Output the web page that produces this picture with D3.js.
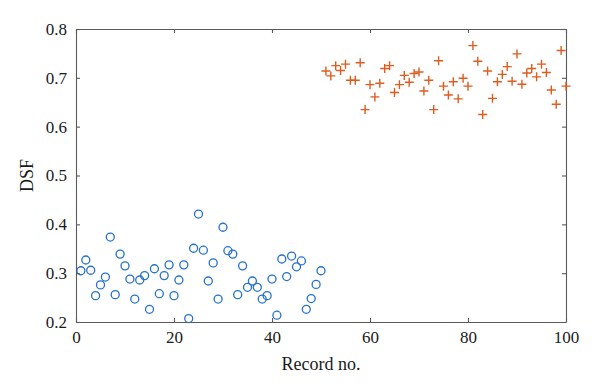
<!DOCTYPE html>
<html>
<head>
<meta charset="utf-8">
<script src="https://cdn.jsdelivr.net/npm/d3@7"></script>
<style>
  body { margin: 0; background: #fff; }
</style>
</head>
<body>
<div id="chart"></div>
<script>
"use strict";

// record numbers 1..50 (circles) and 51..100 (crosses)
var recordsA = d3.range(1, 51);
var recordsB = d3.range(51, 101);

var dsfA = [0.305, 0.327, 0.306, 0.254, 0.276, 0.292, 0.374, 0.256, 0.339, 0.315,
            0.288, 0.247, 0.286, 0.295, 0.226, 0.309, 0.258, 0.295, 0.317, 0.254,
            0.286, 0.317, 0.207, 0.351, 0.421, 0.347, 0.284, 0.321, 0.247, 0.394,
            0.346, 0.339, 0.256, 0.315, 0.271, 0.284, 0.271, 0.247, 0.254, 0.288,
            0.214, 0.329, 0.293, 0.335, 0.313, 0.325, 0.226, 0.248, 0.277, 0.305];

var dsfB = [0.714, 0.704, 0.725, 0.715, 0.728, 0.695, 0.695, 0.731, 0.635, 0.686,
            0.661, 0.689, 0.719, 0.725, 0.670, 0.686, 0.705, 0.691, 0.709, 0.712,
            0.673, 0.695, 0.635, 0.735, 0.683, 0.665, 0.692, 0.657, 0.699, 0.683,
            0.766, 0.734, 0.625, 0.714, 0.658, 0.692, 0.707, 0.723, 0.693, 0.749,
            0.687, 0.710, 0.719, 0.702, 0.728, 0.711, 0.675, 0.646, 0.756, 0.683];

var xTicks = [0, 20, 40, 60, 80, 100];
var yTicks = [0.2, 0.3, 0.4, 0.5, 0.6, 0.7, 0.8];

var width = 600, height = 390;
var margin = {left: 76, right: 566, top: 29, bottom: 322};
var serif = "Liberation Serif, Times New Roman, serif";

var svg = d3.select("#chart").append("svg")
  .attr("width", width)
  .attr("height", height)
  .attr("font-family", serif);

var x = d3.scaleLinear().domain([0, 100]).range([margin.left, margin.right]);
var y = d3.scaleLinear().domain([0.2, 0.8]).range([margin.bottom, margin.top]);

function styleAxis(g) {
  g.attr("font-family", serif).attr("font-size", 17);
  g.selectAll("path, line").attr("stroke", "#5a5a5a").attr("stroke-width", 1.1);
  g.selectAll("text").attr("fill", "#1a1a1a");
}

svg.append("g")
  .attr("transform", "translate(0," + margin.bottom + ")")
  .call(d3.axisBottom(x).tickValues(xTicks).tickSizeInner(-4).tickSizeOuter(0).tickPadding(9))
  .call(styleAxis);

svg.append("g")
  .attr("transform", "translate(0," + margin.top + ")")
  .call(d3.axisTop(x).tickValues(xTicks).tickSizeInner(-4).tickSizeOuter(0).tickFormat(""))
  .call(styleAxis);

svg.append("g")
  .attr("transform", "translate(" + margin.left + ",0)")
  .call(d3.axisLeft(y).tickValues(yTicks).tickSizeInner(-4).tickSizeOuter(0).tickPadding(9)
    .tickFormat(d3.format(".1f")))
  .call(styleAxis);

svg.append("g")
  .attr("transform", "translate(" + margin.right + ",0)")
  .call(d3.axisRight(y).tickValues(yTicks).tickSizeInner(-4).tickSizeOuter(0).tickFormat(""))
  .call(styleAxis);

// circles
svg.append("g").selectAll("circle")
  .data(recordsA)
  .enter().append("circle")
  .attr("cx", function(d) { return x(d); })
  .attr("cy", function(d, i) { return y(dsfA[i]); })
  .attr("r", 4)
  .attr("fill", "none")
  .attr("stroke", "#2471cf")
  .attr("stroke-width", 1.3);

// crosses
svg.append("g").selectAll("path")
  .data(recordsB)
  .enter().append("path")
  .attr("d", function(d, i) {
    var cx = x(d), cy = y(dsfB[i]), s = 4.5;
    return "M" + (cx - s) + "," + cy + "H" + (cx + s) + "M" + cx + "," + (cy - s) + "V" + (cy + s);
  })
  .attr("stroke", "#df5b1e")
  .attr("stroke-width", 1.4)
  .attr("fill", "none");

svg.append("text")
  .attr("x", (margin.left + margin.right) / 2)
  .attr("y", 370)
  .attr("text-anchor", "middle")
  .attr("font-size", 18)
  .attr("fill", "#1a1a1a")
  .text("Record no.");

svg.append("text")
  .attr("transform", "translate(33," + ((margin.top + margin.bottom) / 2) + ") rotate(-90)")
  .attr("text-anchor", "middle")
  .attr("font-size", 18)
  .attr("fill", "#1a1a1a")
  .text("DSF");
</script>
</body>
</html>
